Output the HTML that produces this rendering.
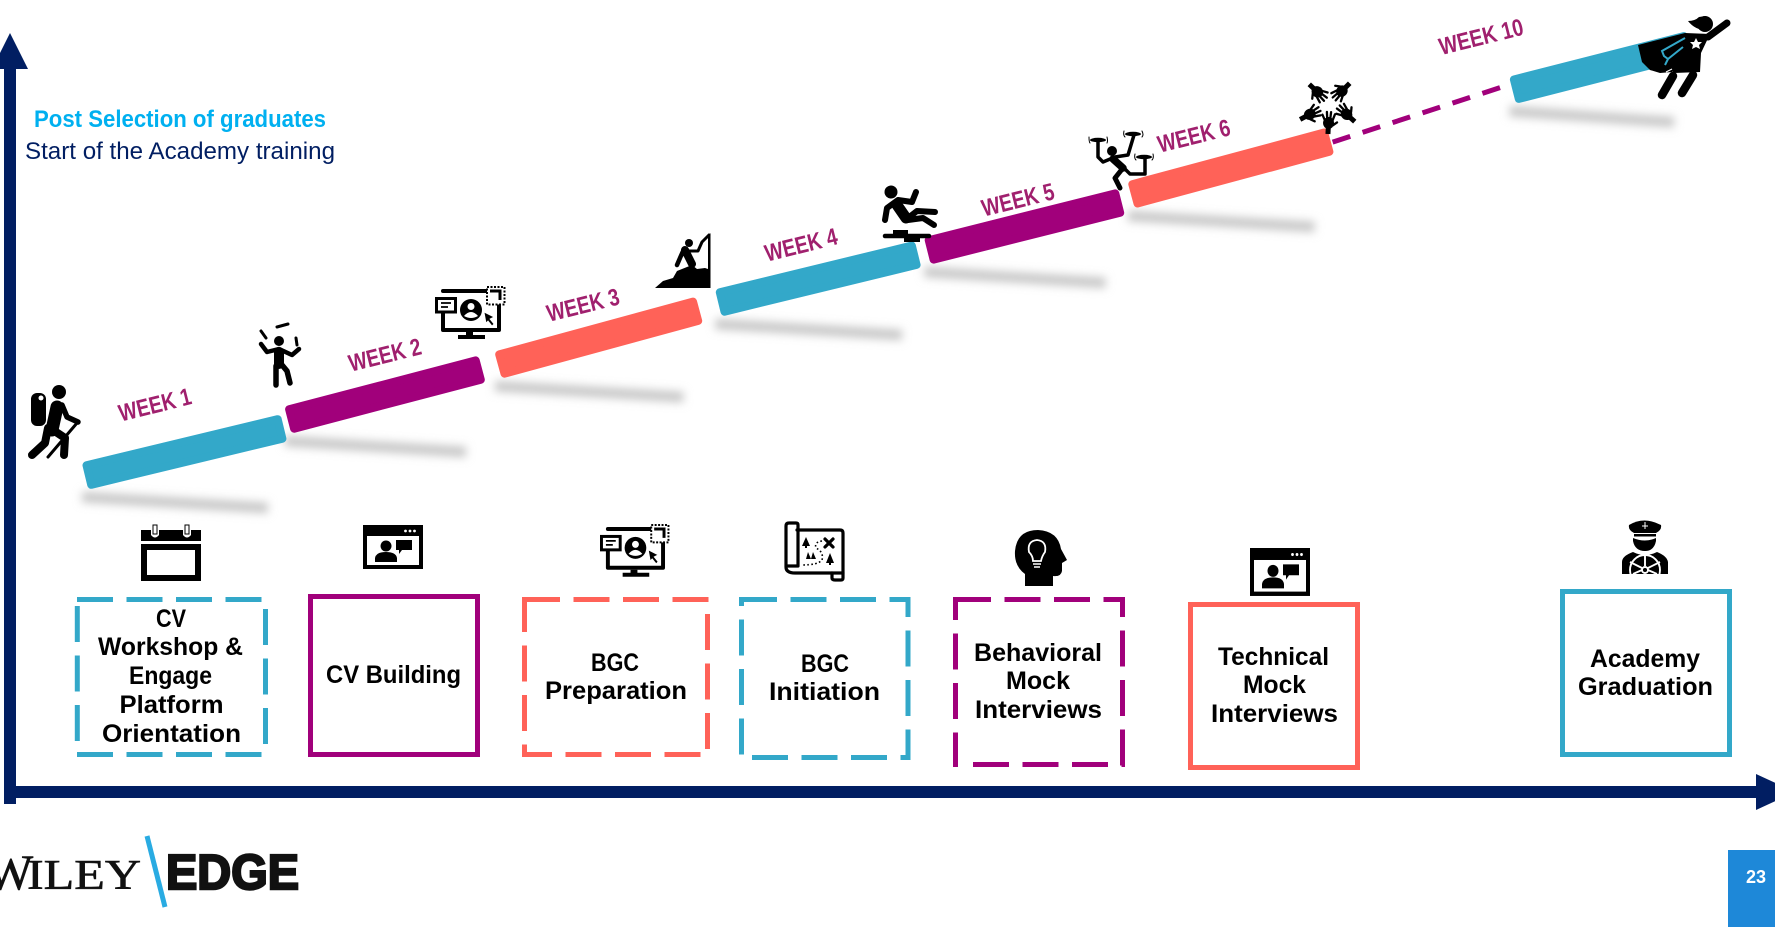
<!DOCTYPE html>
<html lang="en">
<head>
<meta charset="utf-8">
<title>Academy training timeline</title>
<style>
html,body{margin:0;padding:0;background:#fff;width:1775px;height:927px;overflow:hidden}
svg{display:block;position:absolute;left:0;top:0}
text{font-family:"Liberation Sans",sans-serif}
.lbl{font-size:25px;font-weight:700;fill:#000}
.s{fill:none;stroke:#000;stroke-linecap:round;stroke-linejoin:round}
.d{fill:none;stroke-width:5;stroke-dasharray:36 13.5}
</style>
</head>
<body>
<svg id="chart" width="1775" height="927" viewBox="0 0 1775 927" xmlns="http://www.w3.org/2000/svg">
<defs>
<filter id="blur" x="-20%" y="-300%" width="140%" height="700%"><feGaussianBlur stdDeviation="4.5"/></filter>
<g id="monitor-shape">
  <path class="s" stroke-width="4" d="M443 308V330H499V291H443"/>
  <path d="M443 289H486V293H443Z"/>
  <path d="M466 332H473V336H466ZM458 335H485V339H458Z"/>
  <rect x="436.500" y="298.500" width="19" height="13.500" fill="#fff" stroke="#000" stroke-width="3"/>
  <path d="M441 303H451M441 307H448" stroke="#000" stroke-width="1.800"/>
  <circle cx="471" cy="310" r="11"/>
  <circle cx="471" cy="306.500" r="3.500" fill="#fff"/>
  <path d="M464 316Q471 308 478 316Q471 320 464 316Z" fill="#fff"/>
  <path d="M484 312L494 317L490 319L494 324L492 326L488 321L486 323Z" stroke="#fff" stroke-width=".8"/>
  <rect x="487" y="287" width="17.500" height="17.500" fill="#fff" stroke="#000" stroke-width="2" stroke-dasharray="2 1.500"/>
  <path d="M490 291H500V300" fill="none" stroke="#000" stroke-width="3"/>
</g>
<g id="video-shape">
  <rect x="363" y="525" width="60" height="44"/>
  <rect x="367" y="536" width="52" height="29" fill="#fff"/>
  <circle cx="405.500" cy="531" r="1.400" fill="#fff"/><circle cx="410" cy="531" r="1.400" fill="#fff"/><circle cx="414.500" cy="531" r="1.400" fill="#fff"/>
  <circle cx="386" cy="546" r="5.500"/>
  <path d="M375 562V558Q376 552 386 552Q396 552 397 558V562Z"/>
  <path d="M396 540H412V550H402L399 554V550H396Z"/>
</g>
<g id="hand-shape">
  <rect x="-2.500" y="-7" width="5" height="8"/>
  <ellipse cx="0" cy="-10" rx="5.500" ry="6"/>
  <path class="s" stroke-width="2.300" d="M-4 -13L-6.500 -18M-1.500 -14L-2.200 -21M1.500 -14L2 -21M4 -13L6 -19M4.500 -8L8.500 -11"/>
</g>
</defs>

<rect width="1775" height="927" fill="#fff"/>

<!-- axes -->
<g fill="#011e62">
  <rect x="4" y="68" width="12" height="736"/>
  <path d="M10 33L28 69H-8Z"/>
</g>
<g fill="#011e62">
  <rect x="4" y="786" width="1755" height="12"/>
  <path d="M1756 774L1795 792L1756 810Z"/>
</g>

<!-- heading -->
<text x="34" y="127" font-size="24" font-weight="700" fill="#00b0f0" textLength="292" lengthAdjust="spacingAndGlyphs">Post Selection of graduates</text>
<text x="25" y="159" font-size="24" fill="#011e62" textLength="310" lengthAdjust="spacingAndGlyphs">Start of the Academy training</text>

<g id="shadows"></g>
<g id="connector"></g>
<g id="bars"></g>
<g id="weeklabels"></g>

<!-- upper figures -->
<g>
  <circle cx="59" cy="392" r="7"/>
  <rect x="31" y="393" width="15" height="33" rx="6"/>
  <circle cx="41" cy="398" r="2.500" fill="#fff"/>
  <path class="s" stroke-width="13" d="M57 407L52 430"/>
  <path class="s" stroke-width="5.500" d="M62 405L67 417L78 422"/>
  <path class="s" stroke-width="8" d="M53 430L65 438L64 455M48 428L45 443L32 455"/>
  <path class="s" stroke-width="3" d="M77 423L48 457"/>
</g>
<g>
  <circle cx="279" cy="341" r="5"/>
  <path class="s" stroke-width="10" d="M279 352V364"/>
  <path class="s" stroke-width="4.500" d="M261 344L267 352L279 349L292 355L299 349"/>
  <path class="s" stroke-width="5.500" d="M276 366V385M282 365L287 371L290 383"/>
  <path class="s" stroke-width="3" d="M261 331L266 338M296 338L297 345M277 327L288 324"/>
</g>
<use href="#monitor-shape"/>
<g>
  <path d="M708 237L710.500 233V288H655L663 281L673 278L677 271L687 267L692 265L697 269L705 268L708 269Z"/>
  <circle cx="689" cy="243" r="4"/>
  <path class="s" stroke-width="4.500" d="M684 249L680 258L677 265"/>
  <path class="s" stroke-width="8" d="M685 250L692 264"/>
  <path class="s" stroke-width="3" d="M688 251L698 251L702 242L709 235"/>
</g>
<g>
  <circle cx="891" cy="192" r="6.500"/>
  <path class="s" stroke-width="6" d="M885 220L887 208L898 200L912 202L916 192"/>
  <path class="s" stroke-width="11" d="M897 205L906 218"/>
  <path class="s" stroke-width="6" d="M908 218L917 211L935 212M908 220L923 218L934 225"/>
  <path class="s" stroke-width="4.500" d="M885 236H929"/>
  <path d="M893 230H908V234H893ZM904 237H920V242H904Z"/>
</g>
<g>
  <circle cx="1112" cy="151" r="5"/>
  <path class="s" stroke-width="7.500" d="M1113 159L1123 168"/>
  <path class="s" stroke-width="3.500" d="M1098 142V157L1103 162L1115 157L1128 155L1134 135M1124 168L1130 174L1145 174V159"/>
  <path class="s" stroke-width="5" d="M1123 168L1115 178L1120 188"/>
  <ellipse cx="1098" cy="140" rx="8" ry="2.200"/><ellipse cx="1133" cy="134" rx="8" ry="2.200"/><ellipse cx="1144" cy="157" rx="8" ry="2.200"/>
  <path class="s" stroke-width="1" d="M1089 137Q1089 142 1090 143M1107 137Q1108 141 1107 143M1124 131Q1123 135 1125 137M1142 131Q1144 135 1142 137M1135 154Q1134 158 1136 160M1153 154Q1154 158 1152 160"/>
</g>
<g>
  <use href="#hand-shape" transform="translate(1328 133) rotate(3)"/>
  <use href="#hand-shape" transform="translate(1310 85) rotate(133)"/>
  <use href="#hand-shape" transform="translate(1349 84) rotate(225)"/>
  <use href="#hand-shape" transform="translate(1301 119) rotate(62)"/>
  <use href="#hand-shape" transform="translate(1354 121) rotate(-48)"/>
</g>
<g>
  <path d="M1638 45L1685 33L1690 50L1672 72L1660 73L1650 70L1642 62Z"/>
  <path d="M1685 33L1710 34L1701 53L1700 72L1674 73L1668 66Z"/>
  <circle cx="1705" cy="24" r="8"/>
  <path d="M1688 21Q1695 21 1699 17L1706 16L1706 30Q1695 30 1688 21Z"/>
  <path class="s" stroke-width="7" d="M1708 37L1727 23"/>
  <path class="s" stroke-width="8.500" d="M1673 76L1662 95M1693 75L1682 93"/>
  <path d="M1685 38L1662 51L1664 56L1668 59L1683 47M1668 59L1665 65" fill="none" stroke="#33a8c9" stroke-width="2"/>
  <path d="M1696 38L1698 42L1702 42L1699 45L1700 49L1696 47L1692 49L1693 45L1690 42L1694 42Z" fill="#fff"/>
  <path d="M1666 72L1672 69" stroke="#fff" stroke-width="1.200"/>
</g>

<!-- lower icons -->
<g>
  <path d="M141 530H151V535Q155 540 159 535V530H183V535Q187 540 191 535V530H201V541H141Z"/>
  <rect x="144" y="547" width="54" height="31" fill="#fff" stroke="#000" stroke-width="6"/>
  <rect x="153" y="525" width="4" height="9" fill="#fff" stroke="#000" stroke-width="1"/>
  <rect x="185" y="525" width="4" height="9" fill="#fff" stroke="#000" stroke-width="1"/>
</g>
<use href="#video-shape"/>
<use href="#monitor-shape" transform="translate(600 523) scale(.985 .995) translate(-435 -285)"/>
<g>
  <path class="s" stroke-width="3.200" d="M797 530H840Q843 530 843 533V573H795Q786 573 786 567V526Q786 523 789 523H796Q798 523 798 525V566H786"/>
  <path class="s" stroke-width="3.200" d="M832 573V578Q832 580 835 580H841Q843 580 843 578V573"/>
  <path d="M806 537L810 546H807V548H805V546H802ZM808 552L811 559H806ZM813 552L816 559H811ZM830 553L834 563H831V565H829V563H826Z"/>
  <path class="s" stroke-width="3.200" d="M825 539L833 547M833 539L825 547"/>
  <path fill="none" stroke="#000" stroke-width="1.600" stroke-dasharray="1.600 2.400" d="M822 541Q814 542 816 548Q824 552 822 560Q818 565 802 565"/>
</g>
<g>
  <path d="M1025 586V574Q1014 566 1015 551Q1017 530 1038 530Q1058 531 1061 549L1067 560L1062 563V571Q1061 577 1053 576V586Z"/>
  <path d="M1033 561Q1033 556 1029 552Q1027 541 1037 540Q1047 541 1045 552Q1042 556 1041 561Z" fill="none" stroke="#fff" stroke-width="1.800"/>
  <path d="M1033 564H1041M1034 567H1040" stroke="#fff" stroke-width="1.600"/>
</g>
<use href="#video-shape" transform="translate(1250 548) scale(1 1.090) translate(-363 -525)"/>
<g>
  <path d="M1629 525Q1644 516 1661 525Q1662 530 1656 533H1634Q1628 530 1629 525Z"/>
  <rect x="1634" y="534" width="22" height="2.500"/>
  <path d="M1633 538Q1645 543 1656 538V541Q1654 551 1645 551Q1635 551 1633 541Z"/>
  <path d="M1622 574V562Q1622 556 1633 552Q1645 558 1657 552Q1667 556 1668 562V574Z"/>
  <g stroke="#fff" stroke-width="1.900" fill="none">
    <circle cx="1645" cy="570" r="15"/>
    <circle cx="1645" cy="570" r="3"/>
    <path d="M1645 556V566M1630 562L1642 568M1660 562L1648 568M1633 574L1642 570M1657 574L1648 570"/>
  </g>
  <path d="M1645 522V529M1642 526H1648" stroke="#fff" stroke-width="1"/>
</g>

<!-- boxes -->
<g stroke="#33a8c9">
  <line class="d" x1="77" y1="599.500" x2="262" y2="599.500"/>
  <line class="d" x1="77" y1="754.500" x2="262" y2="754.500"/>
  <line class="d" x1="77.300" y1="606" x2="77.300" y2="741"/>
  <line class="d" x1="265.500" y1="609" x2="265.500" y2="745"/>
  <g stroke="none">
    <text class="lbl" x="156" y="627" textLength="30" lengthAdjust="spacingAndGlyphs">CV</text>
    <text class="lbl" x="98" y="655" textLength="145" lengthAdjust="spacingAndGlyphs">Workshop &amp;</text>
    <text class="lbl" x="129" y="684" textLength="83" lengthAdjust="spacingAndGlyphs">Engage</text>
    <text class="lbl" x="119.500" y="713" textLength="104" lengthAdjust="spacingAndGlyphs">Platform</text>
    <text class="lbl" x="102" y="742" textLength="139" lengthAdjust="spacingAndGlyphs">Orientation</text>
  </g>
</g>
<g>
  <rect x="310.500" y="596.500" width="167" height="158" fill="none" stroke="#a1007b" stroke-width="5"/>
  <text class="lbl" x="326" y="683" textLength="135" lengthAdjust="spacingAndGlyphs">CV Building</text>
</g>
<g stroke="#ff6258">
  <line class="d" x1="524" y1="599.500" x2="710" y2="599.500"/>
  <line class="d" x1="524" y1="754.500" x2="710" y2="754.500" stroke-dashoffset="8"/>
  <line class="d" x1="524.500" y1="597" x2="524.500" y2="757" stroke-dashoffset="1"/>
  <line class="d" x1="707.500" y1="614" x2="707.500" y2="749"/>
  <g stroke="none">
    <text class="lbl" x="591" y="671" textLength="48" lengthAdjust="spacingAndGlyphs">BGC</text>
    <text class="lbl" x="545" y="699" textLength="142" lengthAdjust="spacingAndGlyphs">Preparation</text>
  </g>
</g>
<g stroke="#33a8c9">
  <line class="d" x1="741" y1="599.500" x2="910" y2="599.500"/>
  <line class="d" x1="752" y1="757.500" x2="910" y2="757.500"/>
  <line class="d" x1="741.500" y1="597" x2="741.500" y2="755" stroke-dashoffset="27"/>
  <line class="d" x1="908" y1="597" x2="908" y2="760" stroke-dashoffset="16"/>
  <g stroke="none">
    <text class="lbl" x="801" y="672" textLength="48" lengthAdjust="spacingAndGlyphs">BGC</text>
    <text class="lbl" x="769" y="700" textLength="111" lengthAdjust="spacingAndGlyphs">Initiation</text>
  </g>
</g>
<g stroke="#a1007b">
  <line class="d" x1="955" y1="599.500" x2="1125" y2="599.500"/>
  <line class="d" x1="973" y1="764.500" x2="1125" y2="764.500"/>
  <line class="d" x1="955.500" y1="597" x2="955.500" y2="767" stroke-dashoffset="13"/>
  <line class="d" x1="1122.500" y1="597" x2="1122.500" y2="767" stroke-dashoffset="16"/>
  <g stroke="none">
    <text class="lbl" x="974" y="661" textLength="128" lengthAdjust="spacingAndGlyphs">Behavioral</text>
    <text class="lbl" x="1006" y="689" textLength="64" lengthAdjust="spacingAndGlyphs">Mock</text>
    <text class="lbl" x="975" y="718" textLength="127" lengthAdjust="spacingAndGlyphs">Interviews</text>
  </g>
</g>
<g>
  <rect x="1190.500" y="604.500" width="167" height="163" fill="none" stroke="#ff6258" stroke-width="5"/>
  <text class="lbl" x="1218" y="665" textLength="111" lengthAdjust="spacingAndGlyphs">Technical</text>
  <text class="lbl" x="1243" y="693" textLength="63" lengthAdjust="spacingAndGlyphs">Mock</text>
  <text class="lbl" x="1211" y="722" textLength="127" lengthAdjust="spacingAndGlyphs">Interviews</text>
</g>
<g>
  <rect x="1562.500" y="591.500" width="167" height="163" fill="none" stroke="#33a8c9" stroke-width="5"/>
  <text class="lbl" x="1590" y="667" textLength="110" lengthAdjust="spacingAndGlyphs">Academy</text>
  <text class="lbl" x="1578" y="695" textLength="135" lengthAdjust="spacingAndGlyphs">Graduation</text>
</g>

<!-- logo -->
<g>
  <text x="-14" y="889" font-size="50" fill="#111" stroke="#111" stroke-width=".6" style="font-family:'Liberation Serif',serif">W</text>
  <text x="27" y="889" font-size="42" fill="#111" stroke="#111" stroke-width=".6" textLength="114" lengthAdjust="spacingAndGlyphs" style="font-family:'Liberation Serif',serif">ILEY</text>
  <line x1="147" y1="836" x2="165" y2="907" stroke="#29abe2" stroke-width="5"/>
  <text x="166" y="889" font-size="49" font-weight="700" fill="#111" stroke="#111" stroke-width="2.400" textLength="133" lengthAdjust="spacingAndGlyphs">EDGE</text>
</g>

<!-- page number -->
<g>
  <rect x="1728" y="850" width="47" height="77" fill="#1e88d8"/>
  <text x="1756" y="883" font-size="18" font-weight="700" fill="#fff" text-anchor="middle">23</text>
</g>

<script>
// Timeline data, in axis units (position along the run, climb level)
const weekLabels = ['WEEK 1','WEEK 2','WEEK 3','WEEK 4','WEEK 5','WEEK 6','WEEK 10'];
const barSeries = ['teal','purple','coral','teal','purple','coral','teal'];
const barStart = [0,0.97,1.976,3.03,4.03,5.005,6.83];
const barEnd = [0.952,1.90,2.94,3.986,4.96,5.96,7.68];
const levelStart = [0,1,1.98,3.09,4.02,5.02,6.89];
const levelEnd = [0.857,1.91,2.96,3.96,4.89,5.98,7.70];
const labelPos = [0.335,1.435,2.383,3.426,4.464,5.306,6.68];
const labelLevel = [1.27,2.16,3.05,4.125,4.93,6.07,7.84];

const NS = 'http://www.w3.org/2000/svg';
const palette = {teal:'#33a8c9',purple:'#a1007b',coral:'#ff6258'};
function xScale(p){return 85 + 209*p;}
function yScale(l){return 476 - 56*l;}

const shadowsG = document.getElementById('shadows');
const barsG = document.getElementById('bars');
const labelsG = document.getElementById('weeklabels');
const connectorG = document.getElementById('connector');

barStart.forEach(function(s,i){
  const x1 = xScale(s), y1 = yScale(levelStart[i]);
  const x2 = xScale(barEnd[i]), y2 = yScale(levelEnd[i]);
  const len = Math.hypot(x2-x1,y2-y1);
  const ux = (x2-x1)/len, uy = (y2-y1)/len;
  const nx = -uy, ny = ux;
  const h = 10, inset = 4;
  const ax = x1+ux*inset, ay = y1+uy*inset, bx = x2-ux*inset, by = y2-uy*inset;
  const pts = [[ax-nx*h,ay-ny*h],[bx-nx*h,by-ny*h],[bx+nx*h,by+ny*h],[ax+nx*h,ay+ny*h]]
    .map(function(p){return p[0].toFixed(1)+','+p[1].toFixed(1);}).join(' ');

  const sh = document.createElementNS(NS,'line');
  
  
  sh.setAttribute('x1',x1-3);
  sh.setAttribute('y1',y1+21);
  sh.setAttribute('x2',x2-16);
  sh.setAttribute('y2',y1+32);
  sh.setAttribute('stroke','#c9c9c9');
  sh.setAttribute('stroke-width','11');
  sh.setAttribute('filter','url(#blur)');
  shadowsG.appendChild(sh);

  const bar = document.createElementNS(NS,'polygon');
  
  
  bar.setAttribute('points',pts);
  bar.setAttribute('fill',palette[barSeries[i]]);
  bar.setAttribute('stroke',palette[barSeries[i]]);
  bar.setAttribute('stroke-width','8');
  bar.setAttribute('stroke-linejoin','round');
  barsG.appendChild(bar);

  const lx = xScale(labelPos[i]), ly = yScale(labelLevel[i]);
  const t = document.createElementNS(NS,'text');
  
  
  t.setAttribute('x',lx);
  t.setAttribute('y',ly+8);
  t.setAttribute('transform','rotate(-14 '+lx+' '+ly+')');
  t.setAttribute('text-anchor','middle');
  t.setAttribute('font-size','24');
  t.setAttribute('font-weight','700');
  t.setAttribute('fill','#a0206e');
  t.setAttribute('textLength',weekLabels[i].length>6?'86':'74');
  t.setAttribute('lengthAdjust','spacingAndGlyphs');
  t.textContent = weekLabels[i];
  labelsG.appendChild(t);
});

const dash = document.createElementNS(NS,'line');


dash.setAttribute('x1',xScale(barEnd[5])+2);
dash.setAttribute('y1',yScale(levelEnd[5])+1);
dash.setAttribute('x2',xScale(barStart[6])-11);
dash.setAttribute('y2',yScale(levelStart[6])-3);
dash.setAttribute('stroke','#a1007b');
dash.setAttribute('stroke-width','5');
dash.setAttribute('stroke-dasharray','18.5 13');
connectorG.appendChild(dash);
</script>
</svg>
</body>
</html>
